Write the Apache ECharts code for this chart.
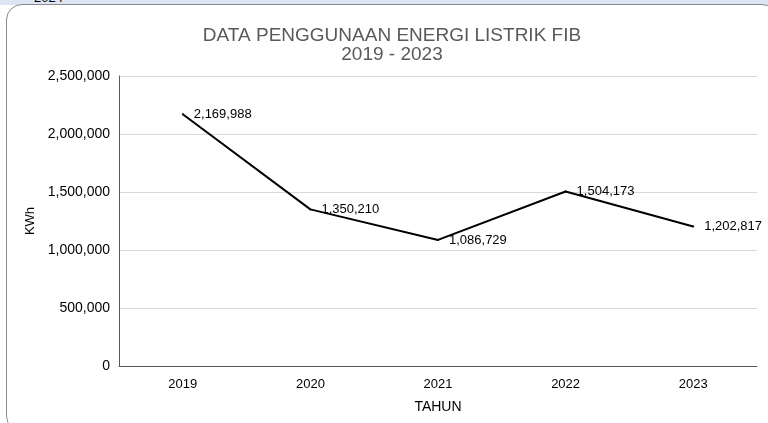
<!DOCTYPE html>
<html lang="id">
<head>
    <meta charset="UTF-8">
    <title>Energi Listrik FIB</title>
    <script src="https://cdn.jsdelivr.net/npm/echarts@6/dist/echarts.min.js"></script>
    <style>
        html, body { margin: 0; padding: 0; background: #fff; overflow: hidden; }
        .strip {
            position: absolute; left: 0; top: 0; width: 768px; height: 5px;
            background: #dbe5f4; overflow: hidden;
        }
        .strip span {
            position: absolute; left: 34px; top: -10px;
            font: 13px "Liberation Sans", Arial, sans-serif; color: #000;
        }
        .frame {
            position: absolute; left: 6px; top: 4px; width: 772px; height: 428px;
            border: 1px solid #8c8c8c; border-radius: 16px; background: #fff;
            box-sizing: border-box;
        }
        #chart { position: absolute; left: 0; top: 0; width: 768px; height: 423px; }
    </style>
</head>
<body>
<div class="strip"><span>2024</span></div>
<div class="frame"></div>
<div id="chart"></div>

<script>
    const years = ['2019', '2020', '2021', '2022', '2023'];
    const kwh = [2169988, 1350210, 1086729, 1504173, 1202817];

    const fmt = function (v) { return v.toLocaleString('en-US'); };
    const font = '"Liberation Sans", Arial, sans-serif';

    const chart = echarts.init(document.getElementById('chart'));
    chart.setOption({
        animation: false,
        title: {
            text: 'DATA PENGGUNAAN ENERGI LISTRIK FIB\n2019 - 2023',
            left: 387, top: 21, textAlign: 'center',
            textStyle: { fontFamily: font, fontSize: 19, fontWeight: 'normal', color: '#595959', lineHeight: 19 }
        },
        grid: { left: 119, right: 11, top: 76, bottom: 57 },
        xAxis: {
            type: 'category',
            data: years,
            name: 'TAHUN', nameLocation: 'middle', nameGap: 34,
            nameTextStyle: { fontFamily: font, fontSize: 14, color: '#000' },
            axisLine: { lineStyle: { color: '#595959', width: 1 } },
            axisTick: { show: false },
            axisLabel: { fontFamily: font, fontSize: 13, color: '#000', margin: 12 }
        },
        yAxis: {
            type: 'value', min: 0, max: 2500000, interval: 500000,
            name: 'KWh', nameLocation: 'middle', nameGap: 77,
            nameTextStyle: { fontFamily: font, fontSize: 13, color: '#000' },
            axisLine: { show: true, lineStyle: { color: '#595959', width: 1 } },
            axisTick: { show: false },
            splitLine: { lineStyle: { color: '#d9d9d9', width: 1 } },
            axisLabel: { fontFamily: font, fontSize: 14, color: '#000', margin: 9, formatter: fmt }
        },
        series: [{
            type: 'line',
            data: kwh,
            symbol: 'circle',
            symbolSize: 2,
            showSymbol: true,
            itemStyle: { color: '#000' },
            lineStyle: { color: '#000', width: 2 },
            label: {
                show: true, position: 'right', distance: 10, offset: [0, 2],
                fontFamily: font, fontSize: 13, color: '#000',
                formatter: function (p) { return fmt(p.value); }
            },
            labelLayout: { hideOverlap: false }
        }]
    });
</script>
</body>
</html>
